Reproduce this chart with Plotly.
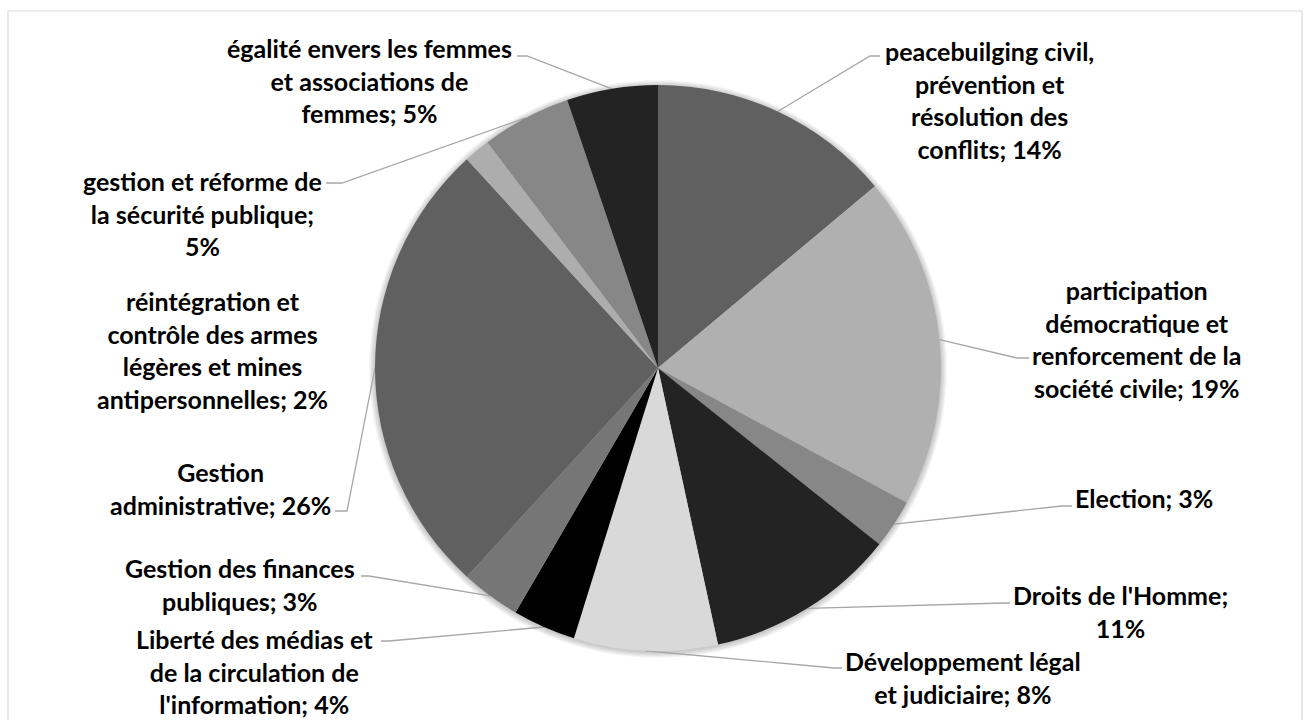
import math
import plotly.graph_objects as go

# ---- data ----
categories = [
    "peacebuilging civil, prévention et résolution des conflits",
    "participation démocratique et renforcement de la société civile",
    "Election",
    "Droits de l'Homme",
    "Développement légal et judiciaire",
    "Liberté des médias et de la circulation de l'information",
    "Gestion des finances publiques",
    "Gestion administrative",
    "réintégration et contrôle des armes légères et mines antipersonnelles",
    "gestion et réforme de la sécurité publique",
    "égalité envers les femmes et associations de femmes",
]
values = [13.9, 19.0, 2.8, 10.9, 8.2, 3.6, 3.4, 26.4, 1.5, 5.1, 5.2]
colors = ["#606060", "#b0b0b0", "#878787", "#232323", "#d9d9d9", "#000000",
          "#767676", "#606060", "#adadad", "#878787", "#232323"]

# label text as wrapped in the reference (display only)
label_lines = [
    ["peacebuilging civil,", "prévention et", "résolution des", "conflits"],
    ["participation", "démocratique et", "renforcement de la", "société civile"],
    ["Election"],
    ["Droits de l'Homme;", ""],
    ["Développement légal", "et judiciaire"],
    ["Liberté des médias et", "de la circulation de", "l'information"],
    ["Gestion des finances", "publiques"],
    ["Gestion", "administrative"],
    ["réintégration et", "contrôle des armes", "légères et mines", "antipersonnelles"],
    ["gestion et réforme de", "la sécurité publique;", ""],
    ["égalité envers les femmes", "et associations de", "femmes"],
]

# ---- layout / positions (pixels in a 1311x720 canvas) ----
W, H = 1311, 720
CX, CY, R = 658, 368, 283
label_pos = [(989, 100), (1136, 339), (1144, 498), (1120, 611), (963, 677),
             (254, 671), (240, 584), (220, 488), (212, 350), (202, 213), (369, 80)]
# leader: (text attach point, elbow point); None = no leader line
leaders = [((880, 56), (870, 56)), ((1029, 358), (1017, 358)),
           ((1072, 506), (1062, 506)), ((1010, 603), (1004, 603)),
           ((842, 668), (834, 668)), ((381, 641), (389, 641)),
           ((361, 576), (369, 576)), ((335, 511), (347, 511)),
           None, ((326, 183), (342, 183)), ((517, 56), (527, 56))]

total = sum(values)
pcts = [round(v / total * 100) for v in values]

texts = []
for lines, p in zip(label_lines, pcts):
    lines = list(lines)
    if lines[-1] == "":
        lines[-1] = f"{p}%"
    else:
        lines[-1] = f"{lines[-1]}; {p}%"
    texts.append("<br>".join(lines))

fig = go.Figure()

# soft shadow behind the pie
shapes = []
for k in range(1, 7):
    shapes.append(dict(type="circle", xref="x", yref="y", layer="below",
                       x0=CX - R - k, x1=CX + R + k, y0=CY - R - k + 1, y1=CY + R + k + 1,
                       line=dict(width=0), fillcolor="rgba(0,0,0,0.035)"))
# chart area border
shapes.append(dict(type="rect", xref="x", yref="y", x0=8, x1=1302, y0=11, y1=730,
                   line=dict(color="#d9d9d9", width=1.2), layer="below"))

fig.add_trace(go.Pie(
    labels=categories, values=values, sort=False, direction="clockwise",
    rotation=0, marker=dict(colors=colors, line=dict(width=0)),
    textinfo="none", hoverinfo="label+percent", showlegend=False,
    domain=dict(x=[(CX - R) / W, (CX + R) / W],
                y=[(H - CY - R) / H, (H - CY + R) / H]),
))

# leader lines from slice mid-angles
cum = 0.0
for i, v in enumerate(values):
    mid = (cum + v / 2) / total * 2 * math.pi
    cum += v
    if leaders[i] is None:
        continue
    px = CX + R * math.sin(mid)
    py = CY - R * math.cos(mid)
    (ax, ay), (ex, ey) = leaders[i]
    fig.add_trace(go.Scatter(x=[ax, ex, px], y=[ay, ey, py], mode="lines",
                             line=dict(color="#a6a6a6", width=1.3),
                             hoverinfo="skip", showlegend=False))

annotations = []
for t, (lx, ly) in zip(texts, label_pos):
    annotations.append(dict(x=lx, y=ly, xref="x", yref="y", text=t, showarrow=False,
                            xanchor="center", yanchor="middle", align="center",
                            font=dict(family="Lato", size=25, color="#000000",
                                      weight="bold")))

fig.update_layout(
    width=W, height=H, margin=dict(l=0, r=0, t=0, b=0),
    paper_bgcolor="white", plot_bgcolor="rgba(0,0,0,0)",
    xaxis=dict(range=[0, W], visible=False, fixedrange=True),
    yaxis=dict(range=[H, 0], visible=False, fixedrange=True),
    shapes=shapes, annotations=annotations, showlegend=False,
)

fig.write_html("out.html", config={"displayModeBar": False},
               post_script="document.body.style.margin='0';")
